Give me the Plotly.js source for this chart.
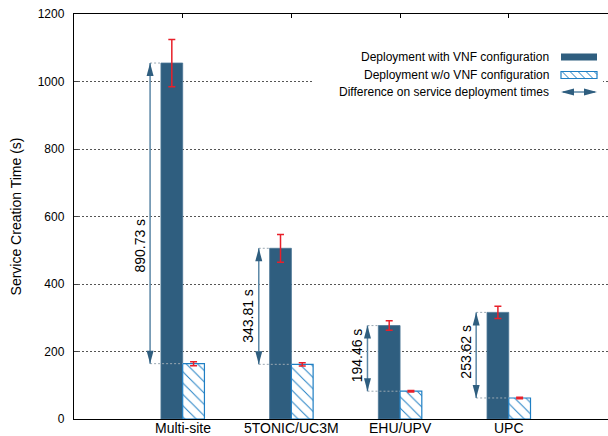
<!DOCTYPE html>
<html><head><meta charset="utf-8">
<script src="https://cdn.plot.ly/plotly-3.0.1.min.js"></script>
<style>body{margin:0;background:#fff}#chart{width:608px;height:436px}</style>
</head><body><div id="chart"></div>
<script>
// ---- data ----
const categories = ['Multi-site', '5TONIC/UC3M', 'EHU/UPV', 'UPC'];
const withVNF = [1054.7, 505.8, 276.8, 315.9];
const withoutVNF = [163.97, 161.99, 82.34, 62.28];
const withVNFErr = [70, 41, 14, 18];
const withoutVNFErr = [6, 5, 2, 2];
const diffLabels = ['890.73 s', '343.81 s', '194.46 s', '253.62 s'];
const diffLabelY = [514, 305, 190, 200];
const legendNames = ['Deployment with VNF configuration', 'Deployment w/o VNF configuration', 'Difference on service deployment times'];
const yTicks = [0, 200, 400, 600, 800, 1000, 1200];

// ---- styles ----
const W = 608, H = 436, ML = 74, MR = 0, MT = 14, MB = 17;
const DARK = '#2f5e7f', HATCH = '#1f7fc4', SHAFT = '#5b87a6', RED = '#e8202a';
const FONT = 'Liberation Sans, Arial, sans-serif';
const xs = categories.map((_, i) => i);
const AX = -0.3; // arrow offset from category centre
const px2x = p => (p - ML) / (W - ML - MR);
const px2y = p => (H - MB - p) / (H - MT - MB);

const traces = [
  {type: 'bar', x: xs, y: withVNF, name: legendNames[0], showlegend: false,
   marker: {color: DARK, line: {color: '#4a7594', width: 0.8}},
   error_y: {type: 'data', array: withVNFErr, visible: true, color: RED, thickness: 1.5, width: 3.5}},
  {type: 'bar', x: xs, y: withoutVNF, name: legendNames[1], showlegend: false,
   marker: {color: HATCH, line: {color: HATCH, width: 1.2},
            pattern: {shape: '\\', bgcolor: 'white', fgcolor: HATCH, size: 8, solidity: 0.12}},
   error_y: {type: 'data', array: withoutVNFErr, visible: true, color: RED, thickness: 1.5, width: 3.5}}
];

const shapes = [];
const annotations = [];
xs.forEach(i => {
  const ax = i + AX;
  shapes.push({type: 'line', xref: 'x', yref: 'y', x0: ax, x1: i - 0.2, y0: withVNF[i], y1: withVNF[i],
               line: {color: '#9aa8b2', width: 1, dash: '2px,2px'}});
  shapes.push({type: 'line', xref: 'x', yref: 'y', x0: ax, x1: i, y0: withoutVNF[i], y1: withoutVNF[i],
               line: {color: '#9aa8b2', width: 1, dash: '2px,2px'}});
  shapes.push({type: 'line', xref: 'x', yref: 'y', x0: ax, x1: ax, y0: withoutVNF[i], y1: withVNF[i],
               line: {color: SHAFT, width: 1.5}});
  shapes.push({type: 'path', xref: 'x', yref: 'y', xsizemode: 'pixel', ysizemode: 'pixel',
               xanchor: ax, yanchor: withVNF[i], path: 'M0,0 L-3.5,-13 L3.5,-13 Z',
               fillcolor: DARK, line: {width: 0}});
  shapes.push({type: 'path', xref: 'x', yref: 'y', xsizemode: 'pixel', ysizemode: 'pixel',
               xanchor: ax, yanchor: withoutVNF[i], path: 'M0,0 L-3.5,13 L3.5,13 Z',
               fillcolor: DARK, line: {width: 0}});
  annotations.push({x: ax, y: diffLabelY[i], xref: 'x', yref: 'y', text: diffLabels[i], showarrow: false,
                    textangle: -90, xshift: -11, font: {family: FONT, size: 14, color: '#000'}});
  annotations.push({x: i, y: px2y(427.5), xref: 'x', yref: 'paper', text: categories[i], showarrow: false,
                    xanchor: 'center', yanchor: 'middle', borderpad: 0, font: {family: FONT, size: 14, color: '#000'}});
});

// ---- hand-drawn key (symbols on the right, like the original) ----
shapes.push({type: 'rect', xref: 'paper', yref: 'paper', x0: px2x(312), x1: px2x(603), y0: px2y(101), y1: px2y(46),
             fillcolor: 'white', line: {width: 0}, layer: 'above'});
const rowY = [57, 75, 92];
legendNames.forEach((n, k) => {
  annotations.push({x: px2x(551), y: px2y(rowY[k]), xref: 'paper', yref: 'paper', xanchor: 'right', yanchor: 'middle',
                    text: n, showarrow: false, font: {family: FONT, size: 12, color: '#000'}});
});
const sx0 = 561, sx1 = 597;
shapes.push({type: 'rect', xref: 'paper', yref: 'paper', x0: px2x(sx0), x1: px2x(sx1), y0: px2y(rowY[0] + 3.5), y1: px2y(rowY[0] - 3.5),
             fillcolor: DARK, line: {width: 0}, layer: 'above'});
const ht = rowY[1] - 3.5, hb = rowY[1] + 3.5, hh = hb - ht;
for (let s = sx0 - hh; s < sx1; s += 8) {
  const a = Math.max(s, sx0), b = Math.min(s + hh, sx1);
  if (b <= a) continue;
  shapes.push({type: 'line', xref: 'paper', yref: 'paper', x0: px2x(a), y0: px2y(ht + (a - s)), x1: px2x(b), y1: px2y(ht + (b - s)),
               line: {color: HATCH, width: 1}, layer: 'above'});
}
shapes.push({type: 'rect', xref: 'paper', yref: 'paper', x0: px2x(sx0), x1: px2x(sx1), y0: px2y(hb), y1: px2y(ht),
             fillcolor: 'rgba(0,0,0,0)', line: {color: HATCH, width: 1.2}, layer: 'above'});
shapes.push({type: 'line', xref: 'paper', yref: 'paper', x0: px2x(sx0 + 2), x1: px2x(sx1 - 2), y0: px2y(rowY[2]), y1: px2y(rowY[2]),
             line: {color: SHAFT, width: 1.5}, layer: 'above'});
shapes.push({type: 'path', xref: 'paper', yref: 'paper', xsizemode: 'pixel', ysizemode: 'pixel', layer: 'above',
             xanchor: px2x(sx0), yanchor: px2y(rowY[2]), path: 'M0,0 L13,3.5 L13,-3.5 Z', fillcolor: DARK, line: {width: 0}});
shapes.push({type: 'path', xref: 'paper', yref: 'paper', xsizemode: 'pixel', ysizemode: 'pixel', layer: 'above',
             xanchor: px2x(sx1), yanchor: px2y(rowY[2]), path: 'M0,0 L-13,3.5 L-13,-3.5 Z', fillcolor: DARK, line: {width: 0}});

const layout = {
  width: W, height: H, margin: {l: ML, r: MR, t: MT, b: MB},
  paper_bgcolor: 'white', plot_bgcolor: 'white',
  font: {family: FONT, size: 12, color: '#000'},
  barmode: 'group', bargap: 0.6, bargroupgap: 0,
  showlegend: false,
  xaxis: {range: [-1, 3.913], tickvals: xs, showticklabels: false, showgrid: false, zeroline: false,
          showline: true, linecolor: '#000', linewidth: 1.2, ticks: ''},
  xaxis2: {range: [-1, 3.913], overlaying: 'x', side: 'top', tickvals: xs, showticklabels: false,
           ticks: 'inside', ticklen: 4, tickcolor: '#000', showline: true, linecolor: '#000', linewidth: 1.2,
           showgrid: false, zeroline: false},
  yaxis: {range: [0, 1200], tickvals: yTicks, showgrid: true, gridcolor: '#555', griddash: '2px,2px', gridwidth: 1,
          zeroline: false, showline: true, linecolor: '#000', linewidth: 1.2, ticks: 'inside', ticklen: 4,
          tickfont: {size: 12}, ticklabelstandoff: 6,
          title: {text: 'Service Creation Time (s)', font: {size: 14}, standoff: 12}},
  shapes: shapes, annotations: annotations
};
traces.push({type: 'scatter', x: [0], y: [0], xaxis: 'x2', yaxis: 'y', mode: 'markers',
             marker: {opacity: 0}, hoverinfo: 'skip', showlegend: false});
Plotly.newPlot('chart', traces, layout, {staticPlot: true});
</script></body></html>
